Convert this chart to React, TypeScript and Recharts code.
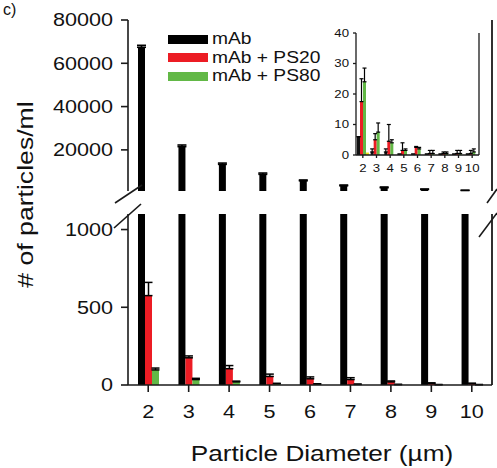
import { Bar, BarChart, CartesianGrid, ErrorBar, Legend, XAxis, YAxis } from 'recharts';

const FONT = "'Liberation Sans', Arial, Helvetica, sans-serif";
const STRETCH = 1.2;
const RED = '#ec1c24';
const GREEN = '#62b846';
const YELLOW = '#f2e21a';
const INK = '#1a1a1a';

// particle size bins (µm)
const sizes = ['2', '3', '4', '5', '6', '7', '8', '9', '10'];

// particles/ml
const mab = [67400, 21500, 13300, 8700, 5700, 3400, 2500, 1700, 1250];
const mabErr = [900, 750, 600, 600, 400, 370, 350, 220, 100];
const ps20 = [575, 175, 105, 55, 40, 35, 20, 10, 8];
const ps20Err = [85, 12, 20, 15, 12, 12, 6, 4, 4];
const ps80 = [97, 35, 20, 8, 6, 4, 3, 2, 2];
const ps80Err = [12, 8, 5, 3, 2, 2, 1, 1, 1];

// inset panel
const insetMab = [6, 1, 1, 0.3, 0.3, 0.3, 0.3, 0.3, 0.3];
const insetMabErr = [0, 1, 1, 0, 0, 0, 0, 0, 0];
const insetPs20 = [17.5, 5, 4.5, 1.5, 2.5, 0.5, 0.5, 0.5, 0.5];
const insetPs20Err = [7.5, 2, 5.5, 2.5, 0.3, 1, 0.5, 1, 1];
const insetPs80 = [24, 7.5, 4, 1.5, 2, 0.5, 0.5, 0.5, 1];
const insetPs80Err = [4.5, 3, 1, 0.5, 0.5, 1, 0.5, 1, 1];
const insetCtrl = [0.8, 0, 0, 0, 0, 0, 0, 0, 0];

const upperTicks = [20000, 40000, 60000, 80000];
const lowerTicks = [0, 500, 1000];
const insetTicks = [0, 10, 20, 30, 40];

const rows = sizes.map((size, i) => ({
  size,
  mab: mab[i],
  mabErr: [0, mabErr[i]],
  ps20: ps20[i],
  ps20Err: [0, ps20Err[i]],
  ps80: ps80[i],
  ps80Err: [0, ps80Err[i]],
}));

const insetRows = sizes.map((size, i) => ({
  size,
  mab: insetMab[i],
  mabErr: [0, insetMabErr[i]],
  ps20: insetPs20[i],
  ps20Err: [0, insetPs20Err[i]],
  ps80: insetPs80[i],
  ps80Err: [0, insetPs80Err[i]],
  ctrl: insetCtrl[i],
}));

const axisLine = { stroke: INK, strokeWidth: 1.6 };
const insetLine = { stroke: INK, strokeWidth: 1.3 };

type TickProps = { x?: number; y?: number; payload?: { value: string | number } };

// Helvetica-style labels, drawn a little wide
function stretchTick(anchor: 'end' | 'middle', size: number, dy: string) {
  return (p: TickProps) => (
    <g transform={`translate(${p.x},${p.y}) scale(${STRETCH},1)`}>
      <text textAnchor={anchor} dy={dy} fontSize={size} fill="#111" fontFamily={FONT}>
        {p.payload?.value}
      </text>
    </g>
  );
}

// right edge of the plot box
const rightEdge = ({ offset }: any) => [offset.left + offset.width];

function SeriesKey({ payload }: any) {
  return (
    <div>
      {(payload || []).map((item: any) => (
        <div key={item.value} style={{ display: 'flex', alignItems: 'center', height: 18.5 }}>
          <span style={{ width: 40, height: 9, background: item.color, display: 'inline-block' }} />
          <span
            style={{
              marginLeft: 4,
              fontSize: 16,
              fontFamily: FONT,
              color: '#111',
              whiteSpace: 'nowrap',
              display: 'inline-block',
              transform: `scaleX(${STRETCH})`,
              transformOrigin: 'left center',
            }}
          >
            {item.value}
          </span>
        </div>
      ))}
    </div>
  );
}

function XTitle({ viewBox }: any) {
  const cx = viewBox.x + viewBox.width / 2 + 12;
  return (
    <g transform={`translate(${cx},${viewBox.y + 76}) scale(1.19,1)`}>
      <text textAnchor="middle" fontSize={22} fill="#111" fontFamily={FONT}>
        Particle Diameter (µm)
      </text>
    </g>
  );
}

function UpperPanel() {
  return (
    <BarChart
      width={497}
      height={200}
      data={rows}
      margin={{ top: 20, right: 5, bottom: 9, left: 0 }}
      barSize={7}
      barGap={0}
    >
      <CartesianGrid horizontal={false} verticalCoordinatesGenerator={rightEdge} stroke={INK} strokeWidth={1.8} />
      <XAxis dataKey="size" orientation="top" height={0} tick={false} tickLine={false} axisLine={axisLine} />
      <YAxis
        domain={[1000, 80000]}
        ticks={upperTicks}
        allowDataOverflow
        width={128}
        tickSize={7}
        tickMargin={8}
        axisLine={axisLine}
        tickLine={axisLine}
        tick={stretchTick('end', 18, '0.36em')}
      />
      <Legend
        layout="vertical"
        align="center"
        verticalAlign="middle"
        content={SeriesKey}
        wrapperStyle={{ left: 168, top: 30, width: 'auto' }}
      />
      <Bar dataKey="mab" name="mAb" fill="#000" isAnimationActive={false}>
        <ErrorBar dataKey="mabErr" width={4.5} strokeWidth={1.6} stroke="#000" direction="y" />
      </Bar>
      <Bar dataKey="ps20" name="mAb + PS20" fill={RED} isAnimationActive={false} />
      <Bar dataKey="ps80" name="mAb + PS80" fill={GREEN} isAnimationActive={false} />
    </BarChart>
  );
}

function LowerPanel() {
  return (
    <BarChart
      width={497}
      height={268}
      data={rows}
      margin={{ top: 14, right: 5, bottom: 0, left: 0 }}
      barSize={7}
      barGap={0}
    >
      <CartesianGrid horizontal={false} verticalCoordinatesGenerator={rightEdge} stroke={INK} strokeWidth={1.8} />
      <XAxis
        dataKey="size"
        height={83}
        tickSize={7}
        tickMargin={13}
        axisLine={axisLine}
        tickLine={axisLine}
        tick={stretchTick('middle', 18, '0.71em')}
        label={{ content: XTitle }}
      />
      <YAxis
        domain={[0, 1100]}
        ticks={lowerTicks}
        allowDataOverflow
        width={128}
        tickSize={7}
        tickMargin={8}
        axisLine={axisLine}
        tickLine={axisLine}
        tick={stretchTick('end', 18, '0.36em')}
      />
      <Bar dataKey="mab" name="mAb" fill="#000" isAnimationActive={false} />
      <Bar dataKey="ps20" name="mAb + PS20" fill={RED} isAnimationActive={false}>
        <ErrorBar dataKey="ps20Err" width={4} strokeWidth={1.5} stroke="#000" direction="y" />
      </Bar>
      <Bar dataKey="ps80" name="mAb + PS80" fill={GREEN} isAnimationActive={false}>
        <ErrorBar dataKey="ps80Err" width={4} strokeWidth={1.5} stroke="#000" direction="y" />
      </Bar>
    </BarChart>
  );
}

function InsetPanel() {
  return (
    <BarChart
      width={170}
      height={170}
      data={insetRows}
      margin={{ top: 13, right: 11, bottom: 0, left: 0 }}
      barSize={3}
      barGap={0}
    >
      <CartesianGrid horizontal={false} verticalCoordinatesGenerator={rightEdge} stroke={INK} strokeWidth={1.3} />
      <XAxis
        dataKey="size"
        height={35}
        tickSize={3}
        tickMargin={6}
        axisLine={insetLine}
        tickLine={insetLine}
        interval={0}
        tick={stretchTick('middle', 11, '0.71em')}
      />
      <XAxis xAxisId="frame" dataKey="size" orientation="top" height={0} tick={false} tickLine={false} axisLine={insetLine} />
      <YAxis
        domain={[0, 40]}
        ticks={insetTicks}
        width={36}
        tickSize={3}
        tickMargin={4}
        axisLine={insetLine}
        tickLine={insetLine}
        tick={stretchTick('end', 11, '0.36em')}
      />
      <Bar dataKey="mab" fill="#111" isAnimationActive={false}>
        <ErrorBar dataKey="mabErr" width={2} strokeWidth={1.2} stroke="#000" direction="y" />
      </Bar>
      <Bar dataKey="ps20" fill={RED} isAnimationActive={false}>
        <ErrorBar dataKey="ps20Err" width={2} strokeWidth={1.2} stroke="#000" direction="y" />
      </Bar>
      <Bar dataKey="ps80" fill={GREEN} isAnimationActive={false}>
        <ErrorBar dataKey="ps80Err" width={2} strokeWidth={1.2} stroke="#000" direction="y" />
      </Bar>
      <Bar dataKey="ctrl" fill={YELLOW} isAnimationActive={false} />
    </BarChart>
  );
}

export default function App() {
  return (
    <div style={{ position: 'absolute', left: 0, top: 0, width: 497, height: 468, background: '#fff', overflow: 'hidden' }}>
      <div style={{ position: 'absolute', left: 0, top: 0 }}>
        <UpperPanel />
      </div>
      <div style={{ position: 'absolute', left: 0, top: 200 }}>
        <LowerPanel />
      </div>
      <div style={{ position: 'absolute', left: 320, top: 20 }}>
        <InsetPanel />
      </div>
      {/* axis break marks, shared y title, panel letter */}
      <svg width={497} height={468} style={{ position: 'absolute', left: 0, top: 0, pointerEvents: 'none' }}>
        <g stroke={INK} strokeWidth={1.6}>
          <line x1={115} y1={203} x2={142} y2={185} />
          <line x1={114} y1={228} x2={141} y2={204} />
          <line x1={487} y1={203} x2={497} y2={189} />
          <line x1={479} y1={237} x2={497} y2={213} />
        </g>
        <g transform="translate(33,194.5) rotate(-90) scale(1.21,1)">
          <text textAnchor="middle" fontSize={22} fill="#111" fontFamily={FONT}>
            # of particles/ml
          </text>
        </g>
        <text x={3} y={15} fontSize={16} fill="#111" fontFamily={FONT}>
          c)
        </text>
      </svg>
    </div>
  );
}
